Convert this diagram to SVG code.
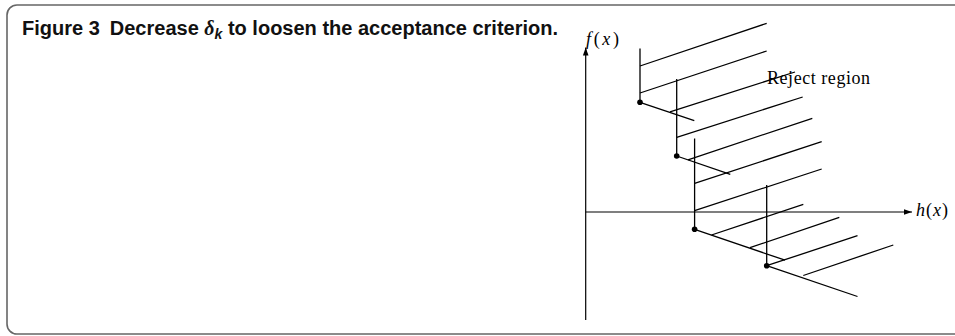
<svg xmlns="http://www.w3.org/2000/svg" width="955" height="336" viewBox="0 0 955 336">
<defs>
<style>
.ln{stroke:#000;stroke-width:1.3;fill:none;stroke-linecap:butt}
.ax{stroke:#000;stroke-width:1.2;fill:none}
.dot{fill:#000}
.math{font-family:"Liberation Serif","DejaVu Serif",serif;font-size:18px;fill:#000}
.title{font-family:"Liberation Sans",Arial,sans-serif;font-weight:bold;font-size:20px;fill:#111}
</style>
<marker id="arr" viewBox="0 0 10 10" refX="10" refY="5" markerWidth="8" markerHeight="8" markerUnits="userSpaceOnUse" orient="auto">
<path d="M0,1.5 L10,5 L0,8.5 Z" fill="#000"/>
</marker>
</defs>
<rect x="7" y="5" width="970" height="329" rx="10" ry="10" fill="#fff" stroke="#666" stroke-width="1.6"/>
<g id="title">
<text class="title" x="22" y="35">Figure 3<tspan dx="10">Decrease </tspan><tspan font-family="Liberation Serif,serif" font-style="italic">δ</tspan><tspan font-style="italic" font-size="14" dy="4">k</tspan><tspan dy="-4"> to loosen the acceptance criterion.</tspan></text>
</g>
<g id="axes">
<line class="ax" x1="585.7" y1="320" x2="585.7" y2="47.5" marker-end="url(#arr)"/>
<line class="ax" x1="585.7" y1="212" x2="912" y2="212" marker-end="url(#arr)"/>
<text class="math" x="586" y="45" textLength="33"><tspan font-style="italic">f</tspan>(<tspan font-style="italic">x</tspan>)</text>
<text class="math" x="916" y="216" textLength="32"><tspan font-style="italic">h</tspan>(<tspan font-style="italic">x</tspan>)</text>
</g>
<g id="connectors">
<line class="ln" x1="640" y1="48.5" x2="640" y2="102.3"/>
<line class="ln" x1="676.7" y1="79" x2="676.7" y2="156"/>
<line class="ln" x1="694.6" y1="138.5" x2="694.6" y2="229.3"/>
<line class="ln" x1="766.7" y1="185" x2="766.7" y2="265.7"/>
<line class="ln" x1="640" y1="102.3" x2="694.3" y2="120.7"/>
<line class="ln" x1="676.7" y1="156" x2="730.3" y2="174.3"/>
<line class="ln" x1="694.6" y1="229.3" x2="785" y2="260.2"/>
<line class="ln" x1="766.7" y1="265.7" x2="857.5" y2="296.5"/>
<line class="ln" x1="640" y1="66" x2="766.7" y2="23.3"/>
<line class="ln" x1="640" y1="93" x2="766.7" y2="51"/>
<line class="ln" x1="670" y1="111.8" x2="795" y2="72"/>
<line class="ln" x1="676.7" y1="137.3" x2="802.7" y2="97"/>
<line class="ln" x1="688" y1="159.8" x2="812.3" y2="118.3"/>
<line class="ln" x1="694.6" y1="183.3" x2="821.7" y2="141.7"/>
<line class="ln" x1="694.6" y1="210.7" x2="821.7" y2="169"/>
<line class="ln" x1="711.5" y1="235" x2="803.3" y2="204.3"/>
<line class="ln" x1="750" y1="247.7" x2="839.3" y2="217.3"/>
<line class="ln" x1="766.7" y1="265.7" x2="857.5" y2="235.7"/>
<line class="ln" x1="803.3" y1="275.5" x2="893.3" y2="245"/>
</g>
<g id="points">
<circle class="dot" cx="640" cy="102.3" r="2.8"/>
<circle class="dot" cx="676.7" cy="156" r="2.8"/>
<circle class="dot" cx="694.6" cy="229.3" r="2.8"/>
<circle class="dot" cx="766.7" cy="265.7" r="2.8"/>
</g>
<g id="label-reject">
<text class="math" x="767" y="84" textLength="103">Reject region</text>
</g>
</svg>
